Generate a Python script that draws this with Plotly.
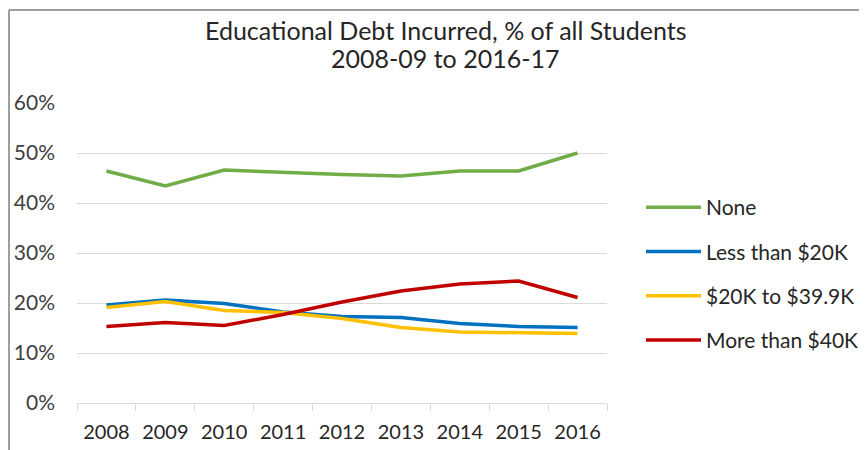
import plotly.graph_objects as go

years = ["2008", "2009", "2010", "2011", "2012", "2013", "2014", "2015", "2016"]
none_vals = [0.464, 0.434, 0.466, 0.461, 0.457, 0.454, 0.464, 0.464, 0.500]
lt20_vals = [0.196, 0.206, 0.199, 0.182, 0.173, 0.171, 0.159, 0.153, 0.151]
mid_vals = [0.191, 0.203, 0.185, 0.181, 0.169, 0.151, 0.142, 0.141, 0.139]
gt40_vals = [0.153, 0.161, 0.155, 0.177, 0.202, 0.224, 0.238, 0.244, 0.211]

title_lines = ["Educational Debt Incurred, % of all Students", "2008-09 to 2016-17"]

series = [
    ("None", none_vals, "#70AD47"),
    ("Less than $20K", lt20_vals, "#0070C0"),
    ("$20K to $39.9K", mid_vals, "#FFC000"),
    ("More than $40K", gt40_vals, "#C00000"),
]

FONT = "Lato"
fig = go.Figure()
for i, (name, vals, color) in enumerate(series):
    fig.add_trace(go.Scatter(
        x=years, y=vals, name=name, mode="lines",
        line=dict(color=color, width=3.5),
        legendgroup=f"g{i}",
    ))

# page offset from default body margin
OFF = 8
W, H = 867, 450 - OFF
# plot area in page pixels: x 77..607, y 103..403
L = 77 - OFF
T = 103 - OFF
R = W - (607 - OFF)
B = H - (403 - OFF)
pw, ph = W - L - R, H - T - B

def px(x):  # page x -> paper
    return (x - OFF - L) / pw

def py(y):  # page y -> paper
    return (H - B - (y - OFF)) / ph

annotations = [
    dict(text=t, xref="paper", yref="paper", x=px(445), y=py(yc),
         xanchor="center", yanchor="middle", showarrow=False,
         font=dict(family=FONT, size=25, color="#262626"))
    for t, yc in zip(title_lines, [30, 58])
]

fig.update_layout(
    width=W, height=H,
    margin=dict(l=L, r=R, t=T, b=B, autoexpand=False),
    paper_bgcolor="white", plot_bgcolor="white",
    font=dict(family=FONT, size=20, color="#404040"),
    showlegend=True,
    legend=dict(
        x=px(641), y=py(187), xanchor="left", yanchor="top",
        font=dict(family=FONT, size=21, color="#262626"),
        traceorder="grouped", tracegroupgap=14,
        itemwidth=55, bgcolor="rgba(0,0,0,0)",
    ),
    xaxis=dict(
        type="category", tickson="boundaries", ticks="outside",
        range=[-0.5, len(years) - 0.5], automargin=False,
        ticklen=7, tickcolor="#d9d9d9", showline=True, linecolor="#d9d9d9",
        linewidth=1, showgrid=False, tickfont=dict(size=20, color="#262626"),
        ticklabelstandoff=11,
    ),
    yaxis=dict(
        range=[0, 0.6], dtick=0.1, tickformat=".0%", showgrid=True,
        automargin=False,
        gridcolor="#d9d9d9", gridwidth=1, zeroline=False, showline=False,
        tickfont=dict(size=21, color="#404040"), ticklabelstandoff=21,
    ),
    annotations=annotations,
    shapes=[
        dict(type="line", xref="paper", yref="paper",
             x0=px(9), x1=px(9), y0=py(10), y1=py(452),
             line=dict(color="#7f7f7f", width=1.5)),
        dict(type="line", xref="paper", yref="paper",
             x0=px(9), x1=px(875), y0=py(10), y1=py(10),
             line=dict(color="#7f7f7f", width=1.5)),
    ],
)

fig.write_html("out.html")
